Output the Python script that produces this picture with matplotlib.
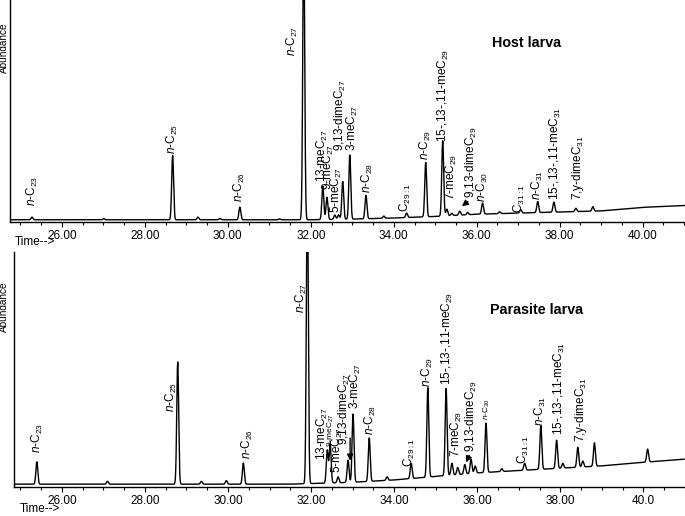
import numpy as np
import matplotlib.pyplot as plt

plt.rcParams['font.family'] = ['Liberation Sans', 'DejaVu Sans']
plt.rcParams['mathtext.fontset'] = 'custom'
plt.rcParams['mathtext.rm'] = 'Liberation Sans'
plt.rcParams['mathtext.it'] = 'Liberation Sans:italic'

# ---- host larva: peaks (retention time, height above baseline) ----
host_rt = [25.28, 27.01, 28.67, 29.28, 29.81, 30.29, 31.25, 31.83, 32.29, 32.39,
           32.58, 32.67, 32.77, 32.94, 33.33, 33.76, 34.31, 34.77, 35.18, 35.28,
           35.40, 35.59, 35.78, 36.14, 36.55, 37.06, 37.47, 37.86, 38.39, 38.80]
host_h = [0.012, 0.005, 0.29, 0.012, 0.006, 0.057, 0.004, 1.3, 0.15, 0.10,
          0.02, 0.02, 0.17, 0.29, 0.105, 0.01, 0.02, 0.245, 0.34, 0.03,
          0.01, 0.018, 0.01, 0.05, 0.008, 0.015, 0.05, 0.045, 0.015, 0.02]
host_base_t = [24.7, 32.0, 33.0, 34.0, 35.0, 36.0, 37.0, 38.0, 39.0, 40.0, 41.1]
host_base = [0.01, 0.01, 0.013, 0.018, 0.025, 0.035, 0.04, 0.045, 0.05, 0.066, 0.075]

host_labels = [r'$\mathit{n}$-C$_{\mathit{23}}$', r'$\mathit{n}$-C$_{\mathit{25}}$',
               r'$\mathit{n}$-C$_{\mathit{26}}$', r'$\mathit{n}$-C$_{\mathit{27}}$',
               r'13-meC$_{\mathit{27}}$', r'9-meC$_{\mathit{27}}$', r'5-meC$_{\mathit{27}}$',
               r'9,13-dimeC$_{\mathit{27}}$', r'3-meC$_{\mathit{27}}$',
               r'$\mathit{n}$-C$_{\mathit{28}}$', r'C$_{\mathit{29:1}}$',
               r'$\mathit{n}$-C$_{\mathit{29}}$', r'15-,13-,11-meC$_{\mathit{29}}$',
               r'7-meC$_{\mathit{29}}$', r'9,13-dimeC$_{\mathit{29}}$',
               r'$\mathit{n}$-C$_{\mathit{30}}$', r'C$_{\mathit{31:1}}$',
               r'$\mathit{n}$-C$_{\mathit{31}}$', r'15-,13-,11-meC$_{\mathit{31}}$',
               r'7,y-dimeC$_{\mathit{31}}$']

# ---- parasite larva ----
para_rt = [25.40, 27.10, 28.79, 29.36, 29.96, 30.37, 31.91, 32.39, 32.46, 32.65,
           32.89, 33.01, 33.40, 33.83, 34.41, 34.81, 35.25, 35.39, 35.53, 35.70,
           35.85, 35.95, 36.21, 36.59, 37.14, 37.53, 37.91, 38.06, 38.42, 38.54,
           38.82, 40.10]
para_h = [0.095, 0.012, 0.52, 0.012, 0.015, 0.09, 1.3, 0.14, 0.165, 0.025,
          0.095, 0.29, 0.185, 0.015, 0.065, 0.38, 0.37, 0.05, 0.03, 0.04,
          0.06, 0.03, 0.21, 0.012, 0.03, 0.185, 0.12, 0.02, 0.085, 0.025,
          0.10, 0.055]
para_base_t = [24.8, 31.5, 33.0, 34.0, 35.0, 36.0, 37.0, 38.0, 39.0, 40.0, 41.1]
para_base = [0.012, 0.012, 0.02, 0.03, 0.045, 0.06, 0.07, 0.08, 0.09, 0.105, 0.12]

para_labels = host_labels

x_ticks = [26, 28, 30, 32, 34, 36, 38, 40]
host_ticklabels = ['26.00', '28.00', '30.00', '32.00', '34.00', '36.00', '38.00', '40.00']
para_ticklabels = ['26.00', '28.00', '30.00', '32.00', '34.00', '36.00', '38.00', '40.0']

# label placement (time, bottom of text) and font size
host_label_pos = [(25.28, 0.07), (28.67, 0.305), (30.29, 0.09), (31.57, 0.75),
                  (32.27, 0.18), (32.43, 0.145), (32.63, 0.04), (32.72, 0.32),
                  (33.01, 0.32), (33.37, 0.13), (34.29, 0.045), (34.77, 0.28),
                  (35.20, 0.36), (35.40, 0.10), (35.88, 0.108), (36.14, 0.09),
                  (37.04, 0.04), (37.47, 0.10), (37.90, 0.10), (38.43, 0.10)]
host_label_size = [8.5] * 20

para_label_pos = [(25.42, 0.145), (28.64, 0.32), (30.47, 0.12), (31.76, 0.74),
                  (32.27, 0.115), (32.48, 0.17), (32.63, 0.06), (32.80, 0.18),
                  (33.08, 0.33), (33.44, 0.22), (34.36, 0.085), (34.79, 0.425),
                  (35.29, 0.434), (35.49, 0.128), (35.85, 0.15), (36.23, 0.285),
                  (37.12, 0.10), (37.53, 0.26), (37.98, 0.22), (38.49, 0.19)]
para_label_size = [8.5] * 20
para_label_size[5] = 6
para_label_size[15] = 6


def chromatogram(t, rt, h, base_t, base, width=0.023):
    y = np.interp(t, base_t, base)
    for r, a in zip(rt, h):
        y = y + a * np.exp(-0.5 * ((t - r) / width) ** 2)
    return y


def draw_panel(ax, xlim, rt, h, base_t, base, labels, pos, sizes, ticklabels, title, title_xy):
    t = np.arange(xlim[0], xlim[1], 0.004)
    ax.plot(t, chromatogram(t, rt, h, base_t, base), color='black', lw=1.0)
    ax.set_xlim(xlim)
    ax.set_ylim(0, 1)
    for s in ['top', 'right']:
        ax.spines[s].set_visible(False)
    ax.spines['left'].set_linewidth(1.0)
    ax.spines['bottom'].set_linewidth(1.0)
    ax.set_yticks([])
    ax.set_xticks(x_ticks)
    ax.set_xticklabels(ticklabels, fontsize=8.5)
    ax.set_xticks(np.arange(25, 41.01, 0.5), minor=True)
    ax.tick_params(axis='x', which='major', length=3.5, width=0.8, pad=2)
    ax.tick_params(axis='x', which='minor', length=2.5, width=0.8)
    for lab, (x, y), fs in zip(labels, pos, sizes):
        ax.text(x, y, lab, rotation=90, ha='center', va='bottom', fontsize=fs)
    ax.text(title_xy[0], title_xy[1], title, fontsize=10.3, fontweight='bold',
            ha='center', va='center')


fig = plt.figure(figsize=(6.85, 5.16), dpi=100)
ax1 = fig.add_axes([10 / 685, 1 - 222 / 516, 675 / 685, 222 / 516])
ax2 = fig.add_axes([14 / 685, 1 - 487 / 516, 671 / 685, 235 / 516])

draw_panel(ax1, (24.75, 41.02), host_rt, host_h, host_base_t, host_base,
           host_labels, host_label_pos, host_label_size, host_ticklabels,
           'Host larva', (37.2, 0.806))
draw_panel(ax2, (24.85, 40.98), para_rt, para_h, para_base_t, para_base,
           para_labels, para_label_pos, para_label_size, para_ticklabels,
           'Parasite larva', (37.43, 0.753))

arrow = dict(arrowstyle='-|>', color='black', lw=1.0, mutation_scale=9)
ax1.annotate('', xy=(35.59, 0.063), xytext=(35.84, 0.10), arrowprops=arrow)
ax2.annotate('', xy=(32.94, 0.10), xytext=(32.94, 0.22), arrowprops=arrow)
ax2.annotate('', xy=(35.70, 0.094), xytext=(35.84, 0.145), arrowprops=arrow)

# y label at top of each panel and "Time-->" under the axis
fig.text(8.5 / 685, 1 - 48 / 516, 'Abundance', rotation=90, ha='right', va='center',
         fontsize=7.2)
fig.text(8.5 / 685, 1 - 307 / 516, 'Abundance', rotation=90, ha='right', va='center',
         fontsize=7.2)
fig.text(15 / 685, 1 - 242 / 516, 'Time-->', ha='left', va='center', fontsize=8.5)
fig.text(20 / 685, 1 - 509 / 516, 'Time-->', ha='left', va='center', fontsize=8.5)

fig.savefig('out.png', dpi=100)
